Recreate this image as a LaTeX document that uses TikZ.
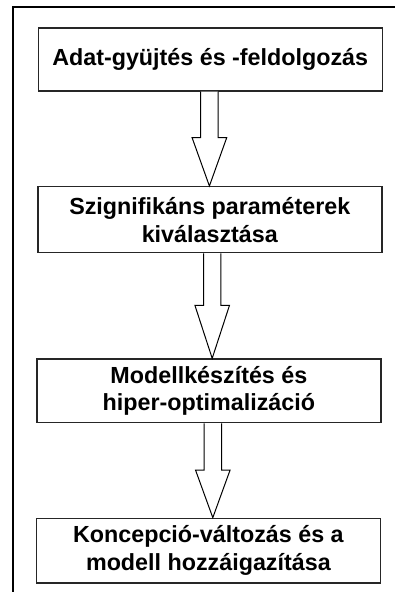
\documentclass[tikz,border=0pt]{standalone}
\usepackage{fontspec}
\setmainfont{Liberation Sans}
\usetikzlibrary{calc}
\newcommand\blockarrow[4]{%
  \draw[arrowline] let \p1=(#1.south), \p2=(#2.north) in
    (#3-8.7,\y1) -- (#3-8.7,#4) -- (#3-17.3,#4) -- (#3,\y2) --
    (#3+17.3,#4) -- (#3+8.7,#4) -- (#3+8.7,\y1);}
\begin{document}
\begin{tikzpicture}[x=1pt,y=1pt,
  stepbox/.style={draw=black!85, line width=1.4pt, fill=white,
    minimum width=344pt, inner sep=0pt, align=center,
    font=\fontsize{23.3pt}{27.8pt}\selectfont\bfseries},
  arrowline/.style={draw=black, line width=1pt, line join=miter, fill=white},
  frameline/.style={draw=black, line width=2.4pt}]
\useasboundingbox (0,0) rectangle (395,-592);
\coordinate (fa) at (13,-592);
\coordinate (fb) at (13,-7);
\coordinate (fc) at (396,-7);
\draw[frameline] (fa) -- (fb) -- (fc);
\node[stepbox, minimum height=63pt] (b1) at (210.2,-59.5) {Adat-gyüjtés és -feldolgozás};
\node[stepbox, minimum height=66pt] (b2) at (209.8,-219.7) {Szignifikáns paraméterek\\kiválasztása};
\node[stepbox, minimum height=63.7pt] (b3) at (208.9,-390.9) {Modellkészítés és\\hiper-optimalizáció};
\node[stepbox, minimum height=64.7pt] (b4) at (208.4,-550.7) {Koncepció-változás és a\\modell hozzáigazítása};
\blockarrow{b1}{b2}{209.4}{-137.7}
\blockarrow{b2}{b3}{212.2}{-305.3}
\blockarrow{b3}{b4}{212.8}{-470}
\end{tikzpicture}
\end{document}
